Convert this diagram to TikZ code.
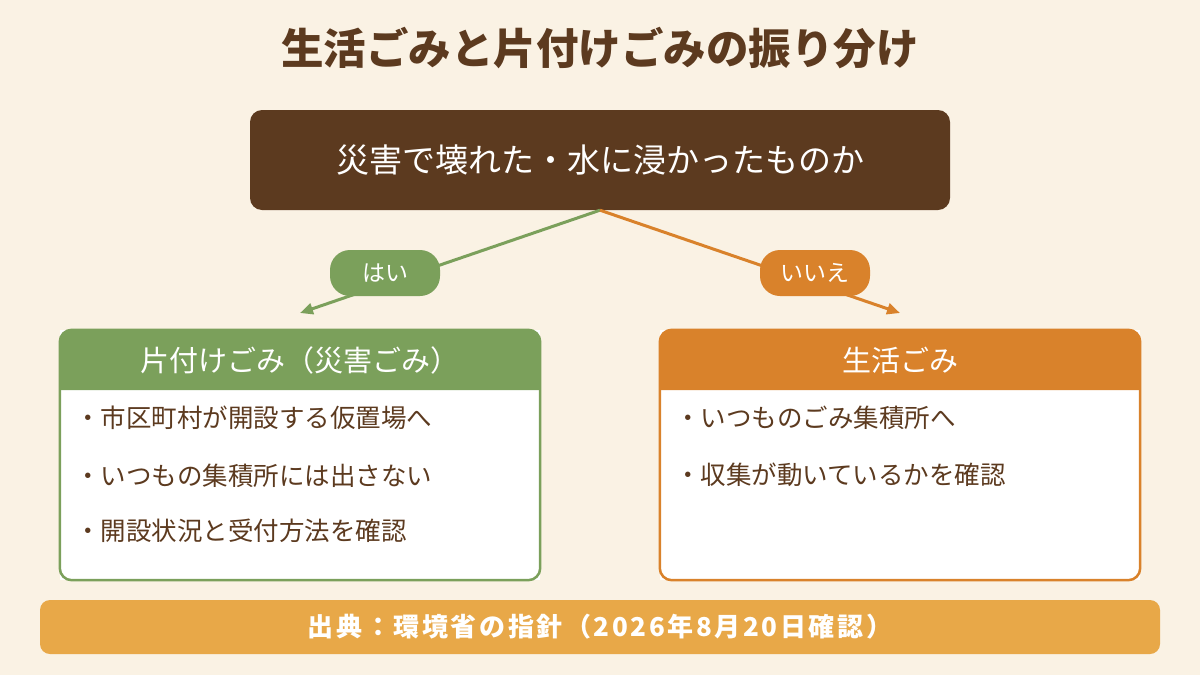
\documentclass[tikz,border=0pt]{standalone}
\usepackage{fontspec}
\setmainfont{Noto Sans CJK JP}
\usetikzlibrary{arrows.meta}
\definecolor{bg}{HTML}{FAF2E4}
\definecolor{brown}{HTML}{5C3A1F}
\definecolor{kgreen}{HTML}{7BA05B}
\definecolor{korange}{HTML}{D9822B}
\definecolor{kfoot}{HTML}{E8A848}
\tikzset{
  boxbody/.style={fill=white, minimum width=480pt, minimum height=250pt, inner sep=0pt},
  headtxt/.style={text=white, font=\fontsize{29}{34}\selectfont},
  bullet/.style={anchor=west, text=brown, font=\fontsize{25.5}{30}\selectfont, inner sep=0pt},
  pill/.style={rounded corners=20pt, minimum width=110pt, minimum height=46pt, text=white, font=\fontsize{23}{28}\selectfont, inner sep=0pt},
  conn/.style={line width=3pt, -{Triangle[length=13pt,width=11pt]}}
}
\begin{document}
\begin{tikzpicture}[x=1pt,y=-1pt]
\fill[bg] (0,0) rectangle (1200,675);
\useasboundingbox (0,0) rectangle (1200,675);
% title
\node[text=brown, font=\bfseries\fontsize{42.5}{48}\selectfont] (title) at (600,48) {生活ごみと片付けごみの振り分け};
% question
\node[fill=brown, rounded corners=12pt, minimum width=700pt, minimum height=100pt, text=white, font=\fontsize{33}{38}\selectfont] (q) at (600,160) {災害で壊れた・水に浸かったものか};
% coordinates for arrow ends
\coordinate (yesend) at (300,313);
\coordinate (noend) at (900,313);
\draw[conn, kgreen] (q.south) -- (yesend);
\draw[conn, korange] (q.south) -- (noend);
\node[pill, fill=kgreen] (yes) at (385,273) {はい};
\node[pill, fill=korange] (no) at (815,273) {いいえ};
% left box
\node[boxbody] (lbox) at (300,455) {};
\fill[kgreen] (lbox.west |- 0,390) [rounded corners=12pt] -- (lbox.north west) -- (lbox.north east) [sharp corners] -- (lbox.east |- 0,390) -- cycle;
\draw[kgreen, line width=2.5pt, rounded corners=12pt] (lbox.north west) rectangle (lbox.south east);
\node[headtxt] (lhead) at (300,360) {片付けごみ（災害ごみ）};
\node[bullet] (l1) at (75,418) {・市区町村が開設する仮置場へ};
\node[bullet] (l2) at (75,476) {・いつもの集積所には出さない};
\node[bullet] (l3) at (75,531) {・開設状況と受付方法を確認};
% right box
\node[boxbody] (rbox) at (900,455) {};
\fill[korange] (rbox.west |- 0,390) [rounded corners=12pt] -- (rbox.north west) -- (rbox.north east) [sharp corners] -- (rbox.east |- 0,390) -- cycle;
\draw[korange, line width=2.5pt, rounded corners=12pt] (rbox.north west) rectangle (rbox.south east);
\node[headtxt] (rhead) at (900,360) {生活ごみ};
\node[bullet] (r1) at (675,418) {・いつものごみ集積所へ};
\node[bullet] (r2) at (675,475) {・収集が動いているかを確認};
% footer
\node[fill=kfoot, rounded corners=10pt, minimum width=1120pt, minimum height=54pt, text=white, font=\bfseries\fontsize{26}{30}\selectfont\addfontfeature{LetterSpace=10}] (foot) at (600,627) {出典：環境省の指針（2026年8月20日確認）};
\end{tikzpicture}
\end{document}
